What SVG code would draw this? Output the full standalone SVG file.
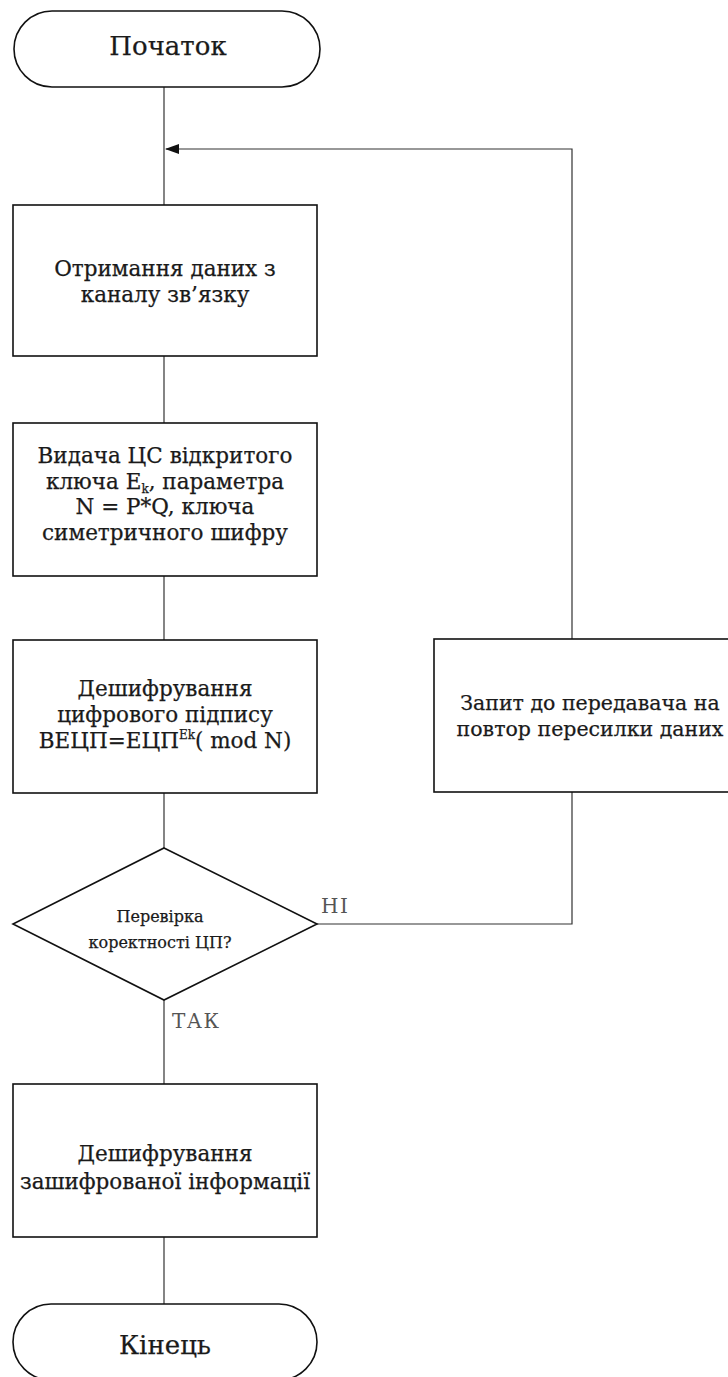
<svg xmlns="http://www.w3.org/2000/svg" width="728" height="1377" viewBox="0 0 728 1377" font-family="'DejaVu Serif', serif">
<defs>
<style>
.shape{fill:#fff;stroke:#111;stroke-width:1.6}
.conn{fill:none;stroke:#333;stroke-width:1.2}
text{font-family:'DejaVu Serif',serif}
.t{fill:#1a1a1a;text-anchor:middle;stroke:#1a1a1a;stroke-width:0.25}
.big{font-size:26px}
.mid{font-size:21.5px}
.req{font-size:20.5px}
.sm{font-size:16px}
.lbl{fill:#555;font-size:20px;letter-spacing:1.5px}
</style>
<marker id="arr" viewBox="0 0 14 10" refX="13" refY="5" markerWidth="14" markerHeight="10" markerUnits="userSpaceOnUse" orient="auto">
<path d="M0,0 L14,5 L0,10 Z" fill="#111"/>
</marker>
</defs>
<rect width="728" height="1377" fill="#fff"/>
<g id="connectors">
<path class="conn" d="M164,87 V205"/>
<path class="conn" d="M164,356 V423"/>
<path class="conn" d="M164,576 V640"/>
<path class="conn" d="M164,793 V848"/>
<path class="conn" d="M164,1000 V1084"/>
<path class="conn" d="M164,1237 V1304"/>
<path class="conn" d="M317,924 H572 V792"/>
<path class="conn" d="M572,639 V149 H166" marker-end="url(#arr)"/>
<text class="lbl" x="321" y="913">НІ</text>
<text class="lbl" x="172" y="1028">ТАК</text>
</g>
<g id="start">
<rect class="shape" x="14" y="11" width="306" height="76" rx="38" ry="38"/>
<text class="t big" x="168" y="55">Початок</text>
</g>
<g id="receive">
<rect class="shape" x="13" y="205" width="304" height="151"/>
<text class="t mid" x="165" y="276">Отримання даних з</text>
<text class="t mid" x="165" y="302">каналу зв’язку</text>
</g>
<g id="issue">
<rect class="shape" x="13" y="423" width="304" height="153"/>
<text class="t mid" x="165" y="463">Видача ЦС відкритого</text>
<text class="t mid" x="165" y="488.5">ключа E<tspan font-size="12" dy="4">k</tspan><tspan dy="-4">, параметра</tspan></text>
<text class="t mid" x="165" y="514">N = P*Q, ключа</text>
<text class="t mid" x="165" y="539.5">симетричного шифру</text>
</g>
<g id="decrypt-sig">
<rect class="shape" x="13" y="640" width="304" height="153"/>
<text class="t mid" x="165" y="696">Дешифрування</text>
<text class="t mid" x="165" y="722">цифрового підпису</text>
<text class="t mid" x="165" y="748">ВЕЦП=ЕЦП<tspan font-size="12" dy="-9">Ek</tspan><tspan dy="9">( mod N)</tspan></text>
</g>
<g id="check">
<polygon class="shape" points="164,848 317,924 164,1000 13,924"/>
<text class="t sm" x="160" y="922">Перевірка</text>
<text class="t sm" x="160" y="948">коректності ЦП?</text>
</g>
<g id="request">
<rect class="shape" x="434" y="639" width="310" height="153"/>
<text class="t req" x="590" y="710">Запит до передавача на</text>
<text class="t req" x="590" y="736">повтор пересилки даних</text>
</g>
<g id="decrypt-info">
<rect class="shape" x="13" y="1084" width="304" height="153"/>
<text class="t mid" x="165" y="1161">Дешифрування</text>
<text class="t mid" x="165" y="1189">зашифрованої інформації</text>
</g>
<g id="end">
<rect class="shape" x="13" y="1304" width="304" height="76" rx="38" ry="38"/>
<text class="t big" x="165" y="1354">Кінець</text>
</g>
</svg>
